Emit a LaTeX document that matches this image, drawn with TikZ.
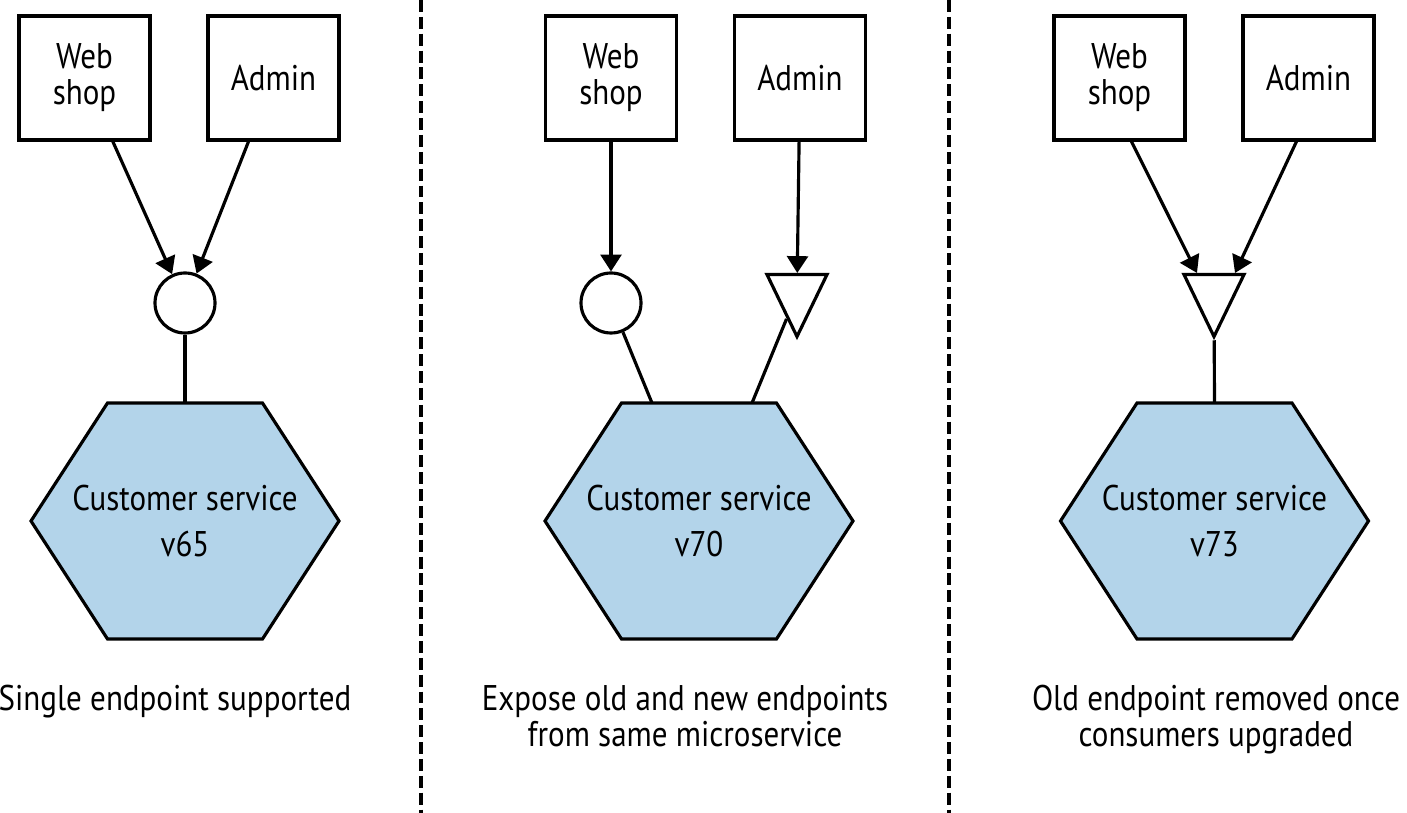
\documentclass[tikz,border=0pt]{standalone}
\usepackage{fontspec}
\setmainfont{PT Sans}[FakeStretch=0.87]
\usetikzlibrary{arrows.meta,positioning,shapes.geometric,backgrounds}
\definecolor{svcblue}{RGB}{179,212,234}

\begin{document}
\begin{tikzpicture}[x=0.02cm, y=-0.02cm, line width=1.8pt,
                    node distance=3.78cm, on grid,
                    every node/.style={font=\fontsize{20.3}{20.5}\selectfont},
                    client/.style={draw, rectangle, minimum width=2.62cm, minimum height=2.48cm,
                                   align=center, inner sep=0pt},
                    oldep/.style={draw, circle, minimum size=1.2cm, inner sep=0pt},
                    newep/.style={draw, isosceles triangle, shape border rotate=270,
                                  isosceles triangle stretches, minimum width=1.2cm,
                                  minimum height=1.24cm, inner sep=0pt, anchor=lower side},
                    service/.style={rectangle, minimum height=4.72cm,
                                    align=center, inner sep=0pt, outer sep=0pt,
                                    font=\fontsize{20.3}{26}\selectfont},
                    hexagon/.style={draw, fill=svcblue, line width=1.8pt},
                    caption/.style={align=center, anchor=north, inner sep=0pt},
                    call/.style={-{Triangle[length=9.6pt, width=11.9pt]}},
                    sep/.style={line width=2pt, dash pattern=on 6.8pt off 2.8pt}]
    %\draw[help lines] (0,0) grid (1407,813);
    \useasboundingbox (0,0) rectangle (1407,813);

    % single endpoint
    \node[client] (web1) at (84.5,78) {Web\\shop};
    \node[client] (adm1) [right=of web1] {Admin};
    \node[oldep] (ep1) at (185,303) {};
    \node[service] (cs1) at (185,521) {Customer service\\v65};
    \node[caption] (cap1) at (175,684) {Single endpoint supported};

    % old and new endpoints side by side
    \node[client] (web2) at (611,78) {Web\\shop};
    \node[client] (adm2) [right=of web2] {Admin};
    \node[oldep] (ep2a) at (611,303) {};
    \node[newep] (ep2b) at (797,273) {};
    \node[service] (cs2) at (699,521) {Customer service\\v70};
    \node[caption] (cap2) at (685,684) {Expose old and new endpoints\\from same microservice};

    % old endpoint gone
    \node[client] (web3) at (1119.5,78) {Web\\shop};
    \node[client] (adm3) [right=of web3] {Admin};
    \node[newep] (ep3) at (1214,273) {};
    \node[service] (cs3) at (1214.5,521) {Customer service\\v73};
    \node[caption] (cap3) at (1216,684) {Old endpoint removed once\\consumers upgraded};

    % hexagons behind the service names
    \begin{scope}[on background layer]
      \foreach \s in {cs1,cs2,cs3}
        \draw[hexagon] ([shift={(-77.5,-118)}]\s.center) -- ([shift={(77.5,-118)}]\s.center)
          -- ([shift={(154,0)}]\s.center) -- ([shift={(77.5,118)}]\s.center)
          -- ([shift={(-77.5,118)}]\s.center) -- ([shift={(-154,0)}]\s.center) -- cycle;
    \end{scope}

    % calls and links
    \path[call]
     (web1) edge (ep1)
     (adm1) edge (ep1)
     (web2) edge (ep2a)
     (adm2) edge (ep2b)
     ([shift={(12,0)}]web3.south) edge ([shift={(-17,0)}]ep3.lower side)
     ([shift={(-12,0)}]adm3.south) edge ([shift={(21,0)}]ep3.lower side);
    \path
     (ep1) edge (cs1.north)
     (ep2a) edge ([shift={(-47,0)}]cs2.north)
     (ep2b) edge ([shift={(53,0)}]cs2.north)
     (ep3) edge (cs3.north);

    % separators
    \draw[sep] (421,0) -- (421,813);
    \draw[sep] (949,0) -- (949,813);
\end{tikzpicture}
\end{document}
